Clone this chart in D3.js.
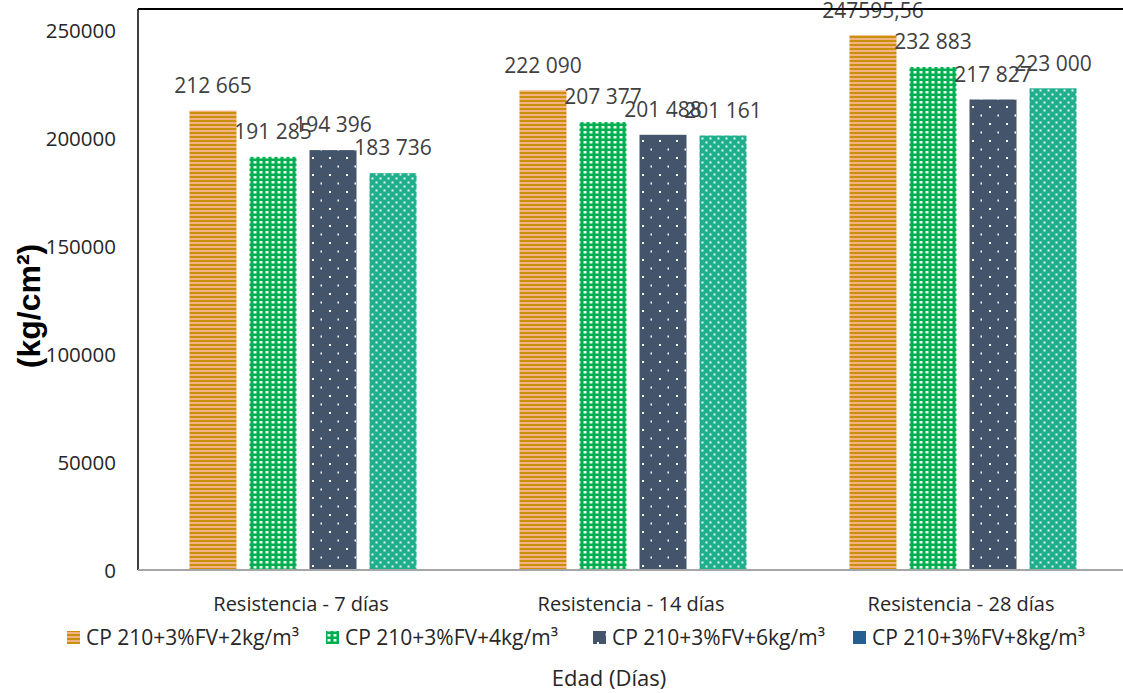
<!DOCTYPE html>
<html>
<head>
<meta charset="utf-8">
<script src="https://cdn.jsdelivr.net/npm/d3@7"></script>
<style>
  html, body { margin: 0; padding: 0; background: #fff; }
  svg { display: block; }
</style>
</head>
<body>
<svg id="chart" width="1123" height="693"></svg>
<script>
// ---- data ----
const categories = ["Resistencia - 7 días", "Resistencia - 14 días", "Resistencia - 28 días"];
const seriesNames = ["CP 210+3%FV+2kg/m³", "CP 210+3%FV+4kg/m³", "CP 210+3%FV+6kg/m³", "CP 210+3%FV+8kg/m³"];
const s2kg = [212665, 222090, 247595.56];
const s4kg = [191285, 207377, 232883];
const s6kg = [194396, 201488, 217827];
const s8kg = [183736, 201161, 223000];
const labels2kg = ["212 665", "222 090", "247595,56"];
const labels4kg = ["191 285", "207 377", "232 883"];
const labels6kg = ["194 396", "201 488", "217 827"];
const labels8kg = ["183 736", "201 161", "223 000"];
const yTicks = [0, 50000, 100000, 150000, 200000, 250000];
const yTitle = "(kg/cm²)";
const xTitle = "Edad (Días)";

const seriesValues = [s2kg, s4kg, s6kg, s8kg];
const seriesLabels = [labels2kg, labels4kg, labels6kg, labels8kg];

// ---- layout ----
const svg = d3.select("#chart");
const pLeft = 138, pRight = 1128, pTop = 8.4, pBottom = 570;

const x0 = d3.scaleBand().domain(categories).range([pLeft, pRight]).padding(0);
const x1 = d3.scaleBand().domain(seriesNames).range([45, 285]).paddingInner(0.2167).paddingOuter(0.108);
const y = d3.scaleLinear().domain([0, 260000]).range([pBottom, pTop]);

// ---- patterns ----
const defs = svg.append("defs");
const pOr = defs.append("pattern").attr("id", "pOrange").attr("patternUnits", "userSpaceOnUse")
  .attr("width", 4).attr("height", 4);
pOr.append("rect").attr("width", 4).attr("height", 4).attr("fill", "#F4B183");
pOr.append("rect").attr("y", 0).attr("width", 4).attr("height", 2).attr("fill", "#C9900C");
const pGr = defs.append("pattern").attr("id", "pGreen").attr("patternUnits", "userSpaceOnUse")
  .attr("width", 6).attr("height", 5);
pGr.append("rect").attr("width", 6).attr("height", 5).attr("fill", "#00B050");
pGr.append("rect").attr("x", 1.5).attr("y", 1).attr("width", 3).attr("height", 2.5).attr("fill", "#ffffff").attr("opacity", 0.92);
const pNv = defs.append("pattern").attr("id", "pNavy").attr("patternUnits", "userSpaceOnUse")
  .attr("width", 17).attr("height", 17);
pNv.append("rect").attr("width", 17).attr("height", 17).attr("fill", "#44546A");
pNv.append("rect").attr("x", 4).attr("y", 4).attr("width", 2).attr("height", 2).attr("fill", "#ffffff");
pNv.append("rect").attr("x", 12.5).attr("y", 12.5).attr("width", 1.5).attr("height", 2).attr("fill", "#ffffff");
const pTl = defs.append("pattern").attr("id", "pTeal").attr("patternUnits", "userSpaceOnUse")
  .attr("width", 8).attr("height", 8);
pTl.append("rect").attr("width", 8).attr("height", 8).attr("fill", "#1FAF8C");
pTl.append("rect").attr("x", 1.5).attr("y", 1.5).attr("width", 2).attr("height", 2).attr("fill", "#ffffff").attr("opacity", 0.9);
pTl.append("rect").attr("x", 5.5).attr("y", 5.5).attr("width", 2).attr("height", 2).attr("fill", "#ffffff").attr("opacity", 0.9);

const fills = ["url(#pOrange)", "url(#pGreen)", "url(#pNavy)", "url(#pTeal)"];

// ---- y axis tick labels ----
const yAxis = d3.axisLeft(y).tickValues(yTicks).tickSize(0).tickPadding(0).tickFormat(d3.format("d"));
const gy = svg.append("g").attr("transform", `translate(${pLeft - 22},0)`).call(yAxis);
gy.select(".domain").remove();
gy.selectAll("text").attr("font-family", "'Open Sans', sans-serif").attr("font-size", 20.5)
  .attr("fill", "#262626").attr("dy", "0.35em");

// ---- bars ----
const groups = svg.append("g").selectAll("g").data(categories).join("g")
  .attr("transform", d => `translate(${x0(d)},0)`);

groups.each(function(cat, ci) {
  const g = d3.select(this);
  seriesNames.forEach((s, si) => {
    const v = seriesValues[si][ci];
    g.append("rect")
      .attr("x", x1(s)).attr("width", x1.bandwidth())
      .attr("y", y(v)).attr("height", y(0) - y(v))
      .attr("fill", fills[si]);
  });
});

// ---- frame ----
svg.append("line").attr("x1", pLeft).attr("x2", 1123).attr("y1", 9).attr("y2", 9)
  .attr("stroke", "#000").attr("stroke-width", 2);
svg.append("line").attr("x1", pLeft).attr("x2", pLeft).attr("y1", 9).attr("y2", pBottom)
  .attr("stroke", "#000").attr("stroke-width", 1.5);
svg.append("line").attr("x1", pLeft).attr("x2", 1123).attr("y1", pBottom).attr("y2", pBottom)
  .attr("stroke", "#A6A6A6").attr("stroke-width", 2);

// ---- data labels ----
groups.each(function(cat, ci) {
  const g = d3.select(this);
  seriesNames.forEach((s, si) => {
    const v = seriesValues[si][ci];
    g.append("text")
      .attr("x", x1(s) + x1.bandwidth() / 2)
      .attr("y", y(v) - 25)
      .attr("dy", "0.35em")
      .attr("text-anchor", "middle")
      .attr("font-family", "'Open Sans', sans-serif")
      .attr("font-size", 21)
      .attr("fill", "#404040")
      .text(seriesLabels[si][ci]);
  });
});

// ---- category labels ----
const xAxis = d3.axisBottom(x0).tickSize(0).tickPadding(0);
const gx = svg.append("g").attr("transform", `translate(0,${pBottom + 41})`).call(xAxis);
gx.select(".domain").remove();
gx.selectAll("text").attr("font-family", "'Open Sans', sans-serif").attr("font-size", 20)
  .attr("fill", "#262626").attr("dy", "0").attr("dx", -2);

// ---- legend ----
const legendX = [67, 326, 593, 853];
const lg = svg.append("g").selectAll("g").data(seriesNames).join("g")
  .attr("transform", (d, i) => `translate(${legendX[i]},638)`);
lg.append("rect").attr("x", 0).attr("y", -7).attr("width", 13).attr("height", 13)
  .attr("fill", (d, i) => i === 3 ? "#255E91" : fills[i]);
lg.append("text").attr("x", 19).attr("y", 0).attr("dy", "0.35em")
  .attr("font-family", "'Open Sans', sans-serif").attr("font-size", 21)
  .attr("fill", "#262626").text(d => d);

// ---- axis titles ----
svg.append("text").attr("x", 609).attr("y", 678).attr("dy", "0.35em").attr("text-anchor", "middle")
  .attr("font-family", "'Open Sans', sans-serif").attr("font-size", 22).attr("fill", "#262626").text(xTitle);
svg.append("text").attr("transform", "translate(29,306) rotate(-90)").attr("dy", "0.35em")
  .attr("text-anchor", "middle").attr("font-family", "'Liberation Sans', Arial, sans-serif")
  .attr("font-weight", "bold").attr("font-size", 32).attr("fill", "#000").text(yTitle);
</script>
</body>
</html>
